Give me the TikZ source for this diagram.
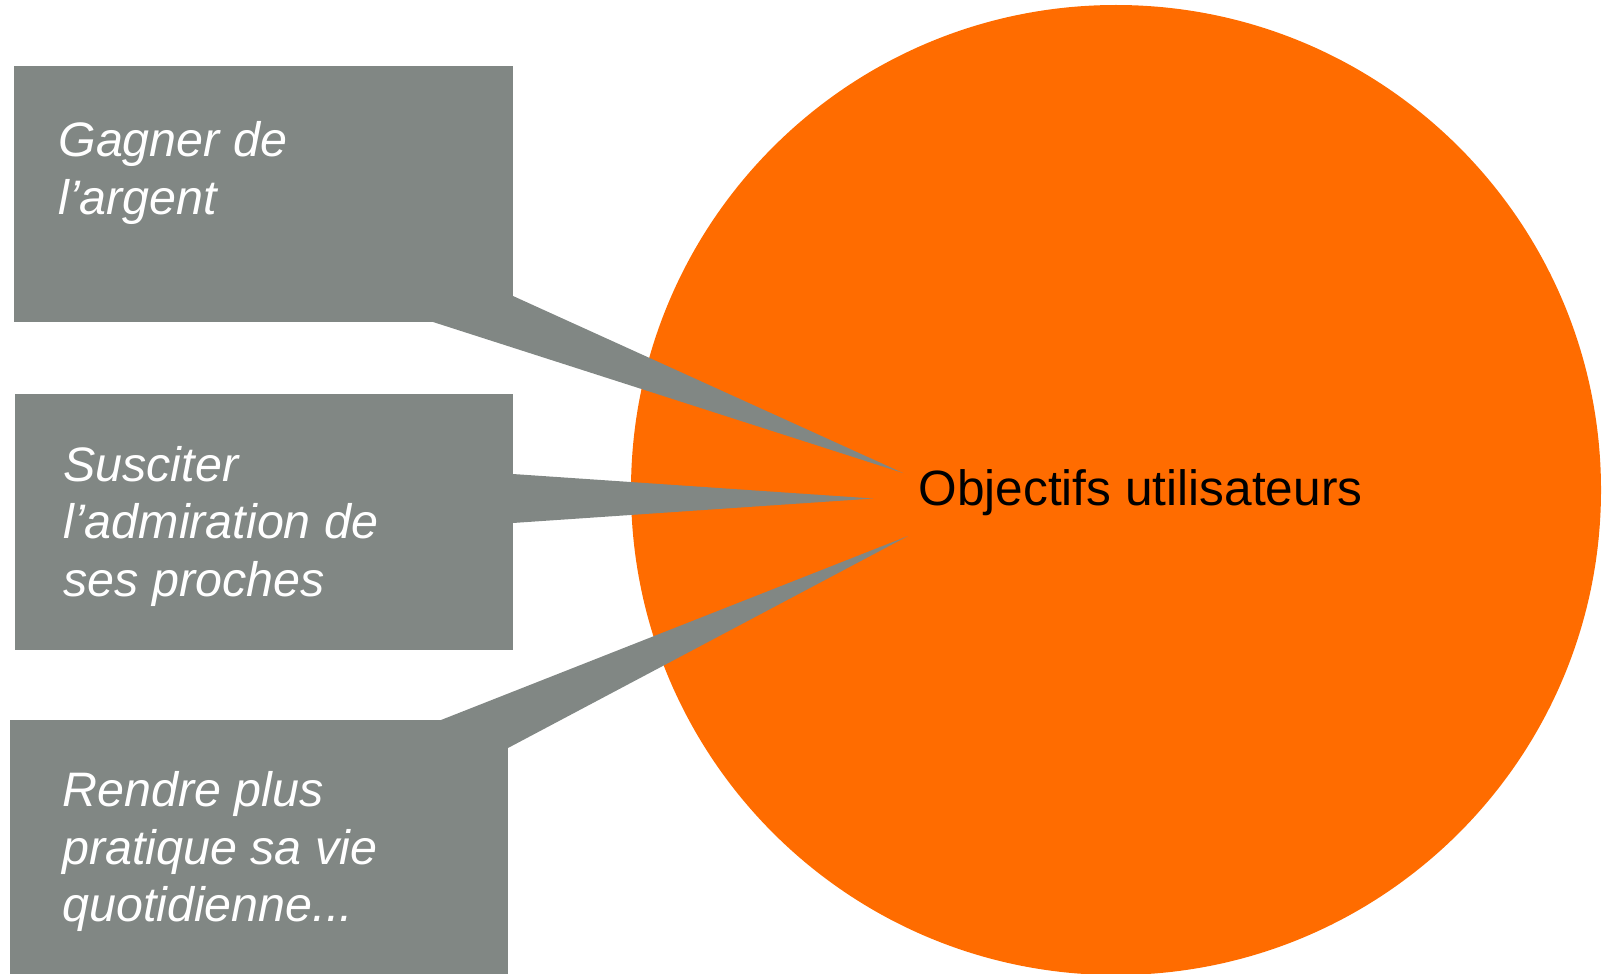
\documentclass[tikz,border=0pt]{standalone}
\usepackage{fontspec}
\setmainfont{Liberation Sans}
\definecolor{callout}{RGB}{129,135,132}
\definecolor{goal}{RGB}{255,108,0}
\newcommand{\stack}[1]{\vtop{\halign{##\hfil\cr#1\crcr}}}
\begin{document}
\begin{tikzpicture}[x=0.5pt,y=-0.5pt,
  panel/.style={fill=callout, draw=none, inner sep=0pt, anchor=north west},
  note/.style={anchor=base west, inner sep=0pt, text=white,
    font=\fontsize{24.2}{28.75}\selectfont\itshape},
  title/.style={anchor=base, inner sep=0pt, text=black,
    font=\fontsize{24.8}{30}\selectfont}]
\useasboundingbox (0,0) rectangle (1611,974);

% central disc
\node[circle, fill=goal, inner sep=0pt, minimum size=485pt] (goal) at (1116,490) {};
\node[title] (goaltext) at (1140.5,505) {Objectifs utilisateurs};

% pointer tips inside the disc
\coordinate (t1) at (903,473);
\coordinate (t2) at (873,498.5);
\coordinate (t3) at (908,536);

% callout panels
\node[panel, minimum width=249.5pt, minimum height=128pt] (b1) at (14,66) {};
\node[panel, minimum width=249.2pt, minimum height=128pt] (b2) at (14.5,393.5) {};
\node[panel, minimum width=249pt, minimum height=127pt] (b3) at (10,720) {};

% wedges from each panel to its tip
\fill[callout] (513,296) -- (t1) -- (433,322) -- (513,322) -- cycle;
\fill[callout] (512.8,474) -- (t2) -- (512.8,523) -- cycle;
\fill[callout] (441,720) -- (t3) -- (508,748) -- (508,720) -- cycle;

% panel texts
\node[note] (n1) at (58,156.7) {\stack{Gagner de\cr l’argent}};
\node[note] (n2) at (63,481) {\stack{Susciter\cr l’admiration de\cr ses proches}};
\node[note] (n3) at (62,806.5) {\stack{Rendre plus\cr pratique sa vie\cr quotidienne...}};
\end{tikzpicture}
\end{document}
